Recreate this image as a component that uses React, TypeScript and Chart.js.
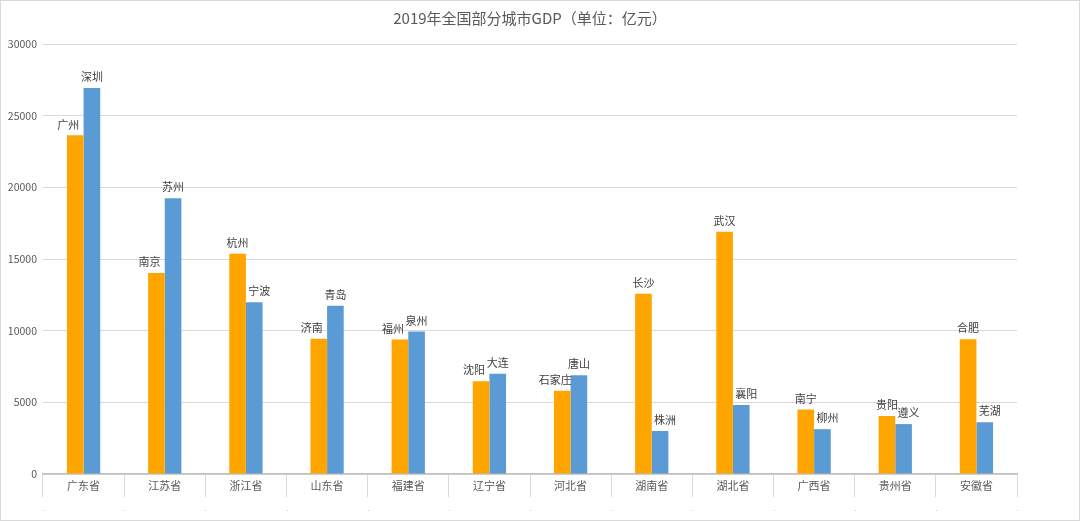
import React, { useEffect, useRef } from "react";
import { Chart, registerables } from "chart.js";

Chart.register(...registerables);

const provinces = ["广东省", "江苏省", "浙江省", "山东省", "福建省", "辽宁省", "河北省", "湖南省", "湖北省", "广西省", "贵州省", "安徽省"];
const capitalNames = ["广州", "南京", "杭州", "济南", "福州", "沈阳", "石家庄", "长沙", "武汉", "南宁", "贵阳", "合肥"];
const capitalGDP = [23628, 14030, 15373, 9443, 9392, 6470, 5810, 12580, 16900, 4507, 4040, 9409];
const secondNames = ["深圳", "苏州", "宁波", "青岛", "泉州", "大连", "唐山", "株洲", "襄阳", "柳州", "遵义", "芜湖"];
const secondGDP = [26927, 19236, 11985, 11741, 9946, 7001, 6890, 3003, 4812, 3128, 3484, 3618];
const yTicks = [0, 5000, 10000, 15000, 20000, 25000, 30000];
const titleText = "2019年全国部分城市GDP（单位：亿元）";

const FONT = "'Noto Sans CJK SC', 'Noto Sans', sans-serif";

export default function App() {
  const ref = useRef<HTMLCanvasElement | null>(null);

  useEffect(() => {
    document.body.style.margin = "0";
    const canvas = ref.current;
    if (!canvas) return;

    const extras = {
      id: "extras",
      beforeDraw(chart: any) {
        const ctx = chart.ctx;
        ctx.save();
        ctx.fillStyle = "#ffffff";
        ctx.fillRect(0, 0, chart.width, chart.height);
        ctx.restore();
      },
      afterDraw(chart: any) {
        const ctx = chart.ctx;
        ctx.save();
        // outer frame
        ctx.strokeStyle = "#d9d9d9";
        ctx.lineWidth = 1;
        ctx.strokeRect(0.5, 0.5, chart.width - 1, chart.height - 1);
        // title
        ctx.fillStyle = "#595959";
        ctx.font = `15px ${FONT}`;
        ctx.textAlign = "center";
        ctx.textBaseline = "middle";
        ctx.fillText(titleText, (chart.chartArea.left + chart.chartArea.right) / 2, 18);
        // dots under category separators
        const xs = chart.scales.x;
        const n = provinces.length;
        const w = (xs.right - xs.left) / n;
        ctx.fillStyle = "#c8c8c8";
        for (let i = 0; i <= n; i++) {
          const px = Math.round(xs.left + i * w);
          ctx.fillRect(px, chart.chartArea.bottom + 36, 1, 1);
        }
        // data labels (shorter bar's label nudged outward to avoid overlap)
        ctx.fillStyle = "#404040";
        ctx.font = `11px ${FONT}`;
        ctx.textAlign = "center";
        ctx.textBaseline = "middle";
        const m0 = chart.getDatasetMeta(0).data;
        const m1 = chart.getDatasetMeta(1).data;
        for (let i = 0; i < provinces.length; i++) {
          const a = m0[i];
          const b = m1[i];
          let ax = a.x;
          let bx = b.x;
          if (capitalGDP[i] < secondGDP[i]) ax -= 7;
          else bx += 5;
          ctx.fillText(capitalNames[i], ax, a.y - 11);
          ctx.fillText(secondNames[i], bx, b.y - 11);
        }
        ctx.restore();
      },
    };

    const chart = new Chart(canvas, {
      type: "bar",
      data: {
        labels: provinces,
        datasets: [
          {
            label: "省会",
            data: capitalGDP,
            backgroundColor: "#FFA500",
            borderWidth: 0,
            categoryPercentage: 0.41,
            barPercentage: 1.0,
          },
          {
            label: "第二城市",
            data: secondGDP,
            backgroundColor: "#5B9BD5",
            borderWidth: 0,
            categoryPercentage: 0.41,
            barPercentage: 1.0,
          },
        ],
      },
      options: {
        responsive: false,
        animation: false,
        devicePixelRatio: 1,
        layout: { padding: { top: 44, right: 63, left: 0, bottom: 0 } },
        plugins: {
          legend: { display: false },
          title: { display: false },
          tooltip: { enabled: false },
        },
        scales: {
          x: {
            afterFit(scale: any) {
              scale.height = 47;
            },
            grid: {
              drawOnChartArea: false,
              drawTicks: true,
              tickLength: 23,
              color: "#d9d9d9",
              lineWidth: 1,
            },
            border: { display: true, color: "#bfbfbf", width: 1.5 },
            ticks: {
              color: "#595959",
              font: { size: 11, family: FONT },
              padding: -18,
              maxRotation: 0,
            },
          },
          y: {
            min: 0,
            max: 30000,
            afterFit(scale: any) {
              scale.width = 43;
            },
            afterBuildTicks(scale: any) {
              scale.ticks = yTicks.map((v) => ({ value: v }));
            },
            grid: { color: "#d9d9d9", drawTicks: false, lineWidth: 1 },
            border: { display: false },
            ticks: {
              color: "#595959",
              font: { size: 10.5, family: FONT },
              padding: 6,
              callback: (v: any) => String(v),
            },
          },
        },
      },
      plugins: [extras],
    });

    return () => chart.destroy();
  }, []);

  return (
    <div style={{ position: "absolute", left: 0, top: 0, width: 1080, height: 521 }}>
      <canvas ref={ref} width={1080} height={521} style={{ display: "block", width: 1080, height: 521 }} />
    </div>
  );
}
